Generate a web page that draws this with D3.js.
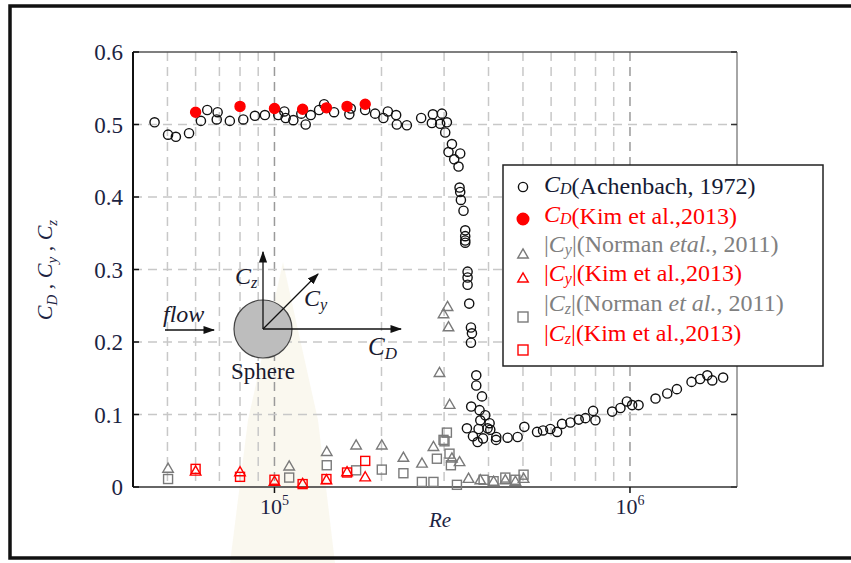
<!DOCTYPE html>
<html>
<head>
<meta charset="utf-8">
<script src="https://cdn.jsdelivr.net/npm/d3@7"></script>
<style>
  body { margin: 0; background: #fff; }
  svg.chart, svg.chart text { font-family: "Times New Roman", "Liberation Serif", "DejaVu Serif", serif; }
</style>
</head>
<body>
<svg class="chart" width="851" height="563"></svg>
<script>
// CD, Achenbach 1972  [Re, CD]
const achenbach = [
  [4.6e4,0.503],[5.02e4,0.486],[5.28e4,0.483],[5.75e4,0.488],[6.21e4,0.505],[6.47e4,0.520],
  [6.92e4,0.517],[6.88e4,0.507],[7.49e4,0.505],[8.17e4,0.507],[8.81e4,0.512],[9.4e4,0.513],
  [1.025e5,0.513],[1.066e5,0.518],[1.075e5,0.509],[1.13e5,0.506],[1.19e5,0.515],[1.224e5,0.500],
  [1.265e5,0.513],[1.335e5,0.520],[1.379e5,0.528],[1.471e5,0.517],[1.624e5,0.514],[1.639e5,0.522],
  [1.799e5,0.520],[1.919e5,0.515],[2.025e5,0.509],[2.084e5,0.518],[2.199e5,0.513],[2.209e5,0.500],
  [2.357e5,0.499],[2.586e5,0.509],[2.79e5,0.514],[2.772e5,0.502],[2.958e5,0.515],[2.925e5,0.501],
  [3.055e5,0.503],[3.022e5,0.489],[3.156e5,0.473],[3.087e5,0.462],[3.33e5,0.460],[3.203e5,0.452],
  [3.294e5,0.442],[3.316e5,0.413],[3.33e5,0.407],[3.345e5,0.396],[3.402e5,0.381],[3.44e5,0.354],
  [3.44e5,0.346],[3.44e5,0.340],[3.44e5,0.337],[3.493e5,0.297],[3.493e5,0.289],[3.493e5,0.279],
  [3.53e5,0.253],[3.57e5,0.220],[3.57e5,0.199],[3.593e5,0.212],[3.695e5,0.154],[3.695e5,0.140],
  [3.835e5,0.125],[3.576e5,0.111],[3.775e5,0.106],[3.917e5,0.099],[3.793e5,0.092],[4.028e5,0.088],
  [3.478e5,0.081],[3.751e5,0.080],[4.046e5,0.079],[3.617e5,0.070],[3.86e5,0.067],[3.727e5,0.062],
  [3.976e5,0.081],[4.207e5,0.069],[4.2e5,0.065],[4.527e5,0.068],[4.83e5,0.069],[5.045e5,0.083],
  [5.478e5,0.076],[5.695e5,0.078],[5.97e5,0.080],[6.237e5,0.076],[6.44e5,0.087],[6.8e5,0.089],
  [7.175e5,0.093],[7.493e5,0.095],[7.876e5,0.105],[7.994e5,0.092],[8.91e5,0.104],[9.4e5,0.109],
  [9.8e5,0.118],[1.014e6,0.113],[1.057e6,0.113],[1.18e6,0.122],[1.273e6,0.129],[1.355e6,0.135],
  [1.49e6,0.145],[1.575e6,0.149],[1.65e6,0.154],[1.704e6,0.147],[1.828e6,0.151]
];

// Kim et al. 2013
const kimRe = [6e4, 8e4, 1e5, 1.2e5, 1.4e5, 1.6e5, 1.8e5];
const kimCD = [0.517, 0.525, 0.522, 0.521, 0.523, 0.525, 0.528];
const kimCy = [0.022, 0.021, 0.008, 0.005, 0.010, 0.021, 0.014];
const kimCz = [0.025, 0.014, 0.010, 0.004, 0.011, 0.020, 0.036];

// Norman et al. 2011  [Re, |Cy|]
const normanCy = [
  [5.02e4,0.026],[1.1e5,0.029],[1.403e5,0.049],[1.697e5,0.058],[2.004e5,0.058],[2.305e5,0.041],
  [2.6e5,0.033],[2.8e5,0.056],[2.912e5,0.158],[2.989e5,0.239],[3.068e5,0.249],[3.087e5,0.221],
  [3.11e5,0.114],[3.156e5,0.040],[3.316e5,0.035],[3.515e5,0.012],[3.793e5,0.010],[4.134e5,0.008],
  [4.46e5,0.010],[4.76e5,0.008],[5.02e5,0.012]
];
// Norman et al. 2011  [Re, |Cz|]
const normanCz = [
  [5.02e4,0.011],[1.1e5,0.013],[1.403e5,0.030],[1.697e5,0.023],[2.004e5,0.024],[2.305e5,0.019],
  [2.598e5,0.007],[2.8e5,0.007],[2.863e5,0.039],[2.989e5,0.065],[3.008e5,0.063],[3.055e5,0.075],
  [3.107e5,0.046],[3.135e5,0.030],[3.26e5,0.003],[3.875e5,0.010],[4.134e5,0.008],[4.46e5,0.013],
  [4.76e5,0.010],[5.02e5,0.017]
];

const yTicks = [0, 0.1, 0.2, 0.3, 0.4, 0.5, 0.6];
const xLabelTicks = [1e5, 1e6];

const serif = "'Liberation Serif', 'Times New Roman', 'DejaVu Serif', serif";
const svg = d3.select("svg.chart").attr("font-family", serif);

const x = d3.scaleLog().domain([4e4, 2e6]).range([133, 737]);
const y = d3.scaleLinear().domain([0, 0.6]).range([487, 52]);

// faint watermark behind the plot
svg.append("path")
  .attr("d", "M283,262 L298,330 L318,420 L335,563 L230,563 L248,420 L268,330 Z")
  .attr("fill", "#f2ecd2")
  .attr("opacity", 0.35);

// outer frame
svg.append("rect")
  .attr("x", 10).attr("y", 6)
  .attr("width", 900).attr("height", 552)
  .attr("fill", "none").attr("stroke", "#111").attr("stroke-width", 3.5);

// grid
const gridRe = x.ticks().filter(d => d >= 5e4 && d <= 1e6);
svg.append("g").selectAll("line")
  .data(gridRe)
  .enter().append("line")
  .attr("x1", d => x(d)).attr("x2", d => x(d))
  .attr("y1", y(0.6)).attr("y2", y(0))
  .attr("stroke", d => xLabelTicks.includes(d) ? "#9a9a9a" : "#c8c8c8")
  .attr("stroke-width", 1.5)
  .attr("stroke-dasharray", "9,6");

svg.append("g").selectAll("line")
  .data(yTicks.filter(d => d > 0 && d < 0.6))
  .enter().append("line")
  .attr("x1", x.range()[0]).attr("x2", x.range()[1])
  .attr("y1", d => y(d)).attr("y2", d => y(d))
  .attr("stroke", "#c8c8c8")
  .attr("stroke-width", 1.5)
  .attr("stroke-dasharray", "9,6");

// plot frame
svg.append("line").attr("x1", 133).attr("x2", 737).attr("y1", 52).attr("y2", 52)
  .attr("stroke", "#555").attr("stroke-width", 1.5);
svg.append("line").attr("x1", 737).attr("x2", 737).attr("y1", 52).attr("y2", 487)
  .attr("stroke", "#888").attr("stroke-width", 1.5);
svg.append("line").attr("x1", 133).attr("x2", 737).attr("y1", 487).attr("y2", 487)
  .attr("stroke", "#333").attr("stroke-width", 1.5);
svg.append("line").attr("x1", 133).attr("x2", 133).attr("y1", 52).attr("y2", 487)
  .attr("stroke", "#111").attr("stroke-width", 2);

// small tick marks
svg.append("g").selectAll("line")
  .data(yTicks)
  .enter().append("line")
  .attr("x1", 133).attr("x2", 139)
  .attr("y1", d => y(d)).attr("y2", d => y(d))
  .attr("stroke", "#111").attr("stroke-width", 1.5);
svg.append("g").selectAll("line")
  .data(yTicks)
  .enter().append("line")
  .attr("x1", 731).attr("x2", 737)
  .attr("y1", d => y(d)).attr("y2", d => y(d))
  .attr("stroke", "#333").attr("stroke-width", 1.5);
svg.append("g").selectAll("line")
  .data(xLabelTicks)
  .enter().append("line")
  .attr("x1", d => x(d)).attr("x2", d => x(d))
  .attr("y1", 487).attr("y2", 493)
  .attr("stroke", "#111").attr("stroke-width", 1.5);

// y tick labels
const labelColor = "#1c2342";
svg.append("g").selectAll("text")
  .data(yTicks)
  .enter().append("text")
  .attr("x", 123)
  .attr("y", d => y(d) + 8)
  .attr("text-anchor", "end")
  .attr("font-size", 23)
  .attr("fill", labelColor)
  .text(d => d3.format(".1f")(d).replace(/^0\.0$/, "0"));

// x tick labels 10^5, 10^6
const xl = svg.append("g").selectAll("text")
  .data(xLabelTicks)
  .enter().append("text")
  .attr("x", d => x(d))
  .attr("y", 514)
  .attr("text-anchor", "middle")
  .attr("font-size", 22)
  .attr("fill", labelColor);
xl.append("tspan").text("10");
xl.append("tspan").attr("dy", -9).attr("font-size", 14).text(d => Math.round(Math.log10(d)));

// axis titles
svg.append("text")
  .attr("x", 440).attr("y", 527)
  .attr("text-anchor", "middle")
  .attr("font-size", 21).attr("font-style", "italic")
  .attr("fill", labelColor)
  .text("Re");

const yt = svg.append("text")
  .attr("transform", "translate(52,270) rotate(-90)")
  .attr("text-anchor", "middle")
  .attr("font-size", 22)
  .attr("fill", labelColor);
[["D", ","], ["y", ","], ["z", ""]].forEach(([sub, sep]) => {
  yt.append("tspan").attr("font-style", "italic").text("C");
  yt.append("tspan").attr("font-style", "italic").attr("font-size", 15).attr("dy", 5).text(sub);
  yt.append("tspan").attr("dy", -5).text(sep ? " " + sep + " " : "");
});

// marker helpers
const tri = d3.symbol().type(d3.symbolTriangle).size(48);

function circles(data, fill, stroke, r) {
  svg.append("g").selectAll("circle")
    .data(data)
    .enter().append("circle")
    .attr("cx", d => x(d[0])).attr("cy", d => y(d[1]))
    .attr("r", r)
    .attr("fill", fill).attr("stroke", stroke).attr("stroke-width", 1.4);
}
function squares(data, color) {
  svg.append("g").selectAll("rect")
    .data(data)
    .enter().append("rect")
    .attr("x", d => x(d[0]) - 4.5).attr("y", d => y(d[1]) - 4.5)
    .attr("width", 9).attr("height", 9)
    .attr("fill", "none").attr("stroke", color).attr("stroke-width", 1.4);
}
function triangles(data, color) {
  svg.append("g").selectAll("path")
    .data(data)
    .enter().append("path")
    .attr("d", tri)
    .attr("transform", d => `translate(${x(d[0])},${y(d[1]) + 1})`)
    .attr("fill", "none").attr("stroke", color).attr("stroke-width", 1.4);
}

const greyMark = "#7a7a7a";
squares(normanCz, greyMark);
triangles(normanCy, greyMark);
squares(kimRe.map((r, i) => [r, kimCz[i]]), "#f00");
triangles(kimRe.map((r, i) => [r, kimCy[i]]), "#f00");
circles(achenbach, "none", "#111", 4.6);
circles(kimRe.map((r, i) => [r, kimCD[i]]), "#f00", "#f00", 5);

// inset diagram
const inset = svg.append("g");
const cx0 = 263, cy0 = 329;
svg.append("defs").append("marker")
  .attr("id", "arr").attr("viewBox", "0 0 10 10")
  .attr("refX", 9).attr("refY", 5)
  .attr("markerWidth", 9).attr("markerHeight", 9)
  .attr("orient", "auto")
  .append("path").attr("d", "M0,1.5 L10,5 L0,8.5 Z").attr("fill", "#111");

inset.append("circle")
  .attr("cx", cx0).attr("cy", cy0).attr("r", 29)
  .attr("fill", "#bdbdbd").attr("stroke", "#444").attr("stroke-width", 1.2);
[[cx0, 252], [401, cy0], [318, 274]].forEach(([tx, ty]) => {
  inset.append("line")
    .attr("x1", cx0).attr("y1", cy0).attr("x2", tx).attr("y2", ty)
    .attr("stroke", "#111").attr("stroke-width", 1.3)
    .attr("marker-end", "url(#arr)");
});
inset.append("line")
  .attr("x1", 165).attr("y1", 330).attr("x2", 214).attr("y2", 330)
  .attr("stroke", "#111").attr("stroke-width", 1.3)
  .attr("marker-end", "url(#arr)");

function sub(parent, px, py, main, s, size) {
  const t = parent.append("text").attr("x", px).attr("y", py)
    .attr("font-size", size).attr("fill", "#1a1a2e");
  t.append("tspan").attr("font-style", "italic").text(main);
  t.append("tspan").attr("font-style", "italic").attr("font-size", size * 0.68).attr("dy", 4).text(s);
  return t;
}
inset.append("text").attr("x", 163).attr("y", 322)
  .attr("font-size", 24).attr("font-style", "italic").attr("fill", "#1a1a2e").text("flow");
inset.append("text").attr("x", cx0).attr("y", 379)
  .attr("text-anchor", "middle").attr("font-size", 23).attr("fill", "#1a1a2e").text("Sphere");
sub(inset, 235, 284, "C", "z", 24);
sub(inset, 304, 306, "C", "y", 24);
sub(inset, 368, 355, "C", "D", 25);

// legend
const legend = svg.append("g");
legend.append("rect")
  .attr("x", 503).attr("y", 165).attr("width", 320).attr("height", 201)
  .attr("fill", "#fff").attr("stroke", "#222").attr("stroke-width", 1.5);

const legendRows = [
  { kind: "circle", color: "#111", fill: "none", text: "#151a33", sub: "D", abs: false, rest: [["(Achenbach, 1972)", false]] },
  { kind: "circle", color: "#f00", fill: "#f00", text: "#f00", sub: "D", abs: false, rest: [["(Kim et al.,2013)", false]] },
  { kind: "tri", color: greyMark, text: "#808080", sub: "y", abs: true, rest: [["(Norman ", false], ["etal.", true], [", 2011)", false]] },
  { kind: "tri", color: "#f00", text: "#f00", sub: "y", abs: true, rest: [["(Kim et al.,2013)", false]] },
  { kind: "sq", color: greyMark, text: "#808080", sub: "z", abs: true, rest: [["(Norman ", false], ["et al.", true], [", 2011)", false]] },
  { kind: "sq", color: "#f00", text: "#f00", sub: "z", abs: true, rest: [["(Kim et al.,2013)", false]] }
];
const rowTextY = [192, 222, 252, 281, 311, 341];
const rowMarkY = [187, 219, 255, 279, 317, 350];

legendRows.forEach((r, i) => {
  const my = rowMarkY[i];
  if (r.kind === "circle") {
    legend.append("circle").attr("cx", 523).attr("cy", my).attr("r", r.fill === "none" ? 4.6 : 5.8)
      .attr("fill", r.fill).attr("stroke", r.color).attr("stroke-width", 1.4);
  } else if (r.kind === "tri") {
    legend.append("path").attr("d", tri).attr("transform", `translate(523,${my})`)
      .attr("fill", "none").attr("stroke", r.color).attr("stroke-width", 1.4);
  } else {
    legend.append("rect").attr("x", 518).attr("y", my - 5).attr("width", 10).attr("height", 10)
      .attr("fill", "none").attr("stroke", r.color).attr("stroke-width", 1.4);
  }
  const t = legend.append("text").attr("x", 544).attr("y", rowTextY[i])
    .attr("font-size", 24).attr("fill", r.text);
  if (r.abs) t.append("tspan").text("|");
  t.append("tspan").attr("font-style", "italic").text("C");
  t.append("tspan").attr("font-style", "italic").attr("font-size", 16)
    .attr("dy", r.sub === "D" ? 2 : 3).text(r.sub);
  t.append("tspan").attr("dy", r.sub === "D" ? -2 : -3).text(r.abs ? "|" : "");
  r.rest.forEach(([s, it]) => {
    t.append("tspan").attr("font-style", it ? "italic" : "normal").text(s);
  });
});
</script>
</body>
</html>
